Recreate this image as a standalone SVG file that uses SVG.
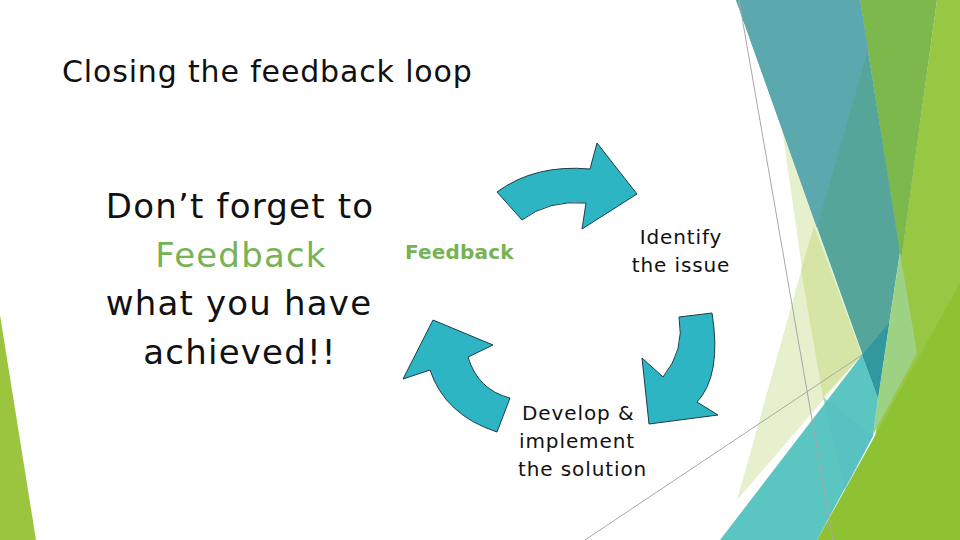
<svg xmlns="http://www.w3.org/2000/svg" width="960" height="540" viewBox="0 0 960 540">
<style>
.t{font-family:"DejaVu Sans","Liberation Sans",sans-serif;fill:#111}
.big{font-size:34px;text-anchor:middle;letter-spacing:1.2px}
.lbl{font-size:20px;letter-spacing:0.9px}
.green{fill:#77B254}
.arrow{fill:#2DB5C4;stroke:#1d3d4c;stroke-width:1;stroke-linejoin:round}
.gl{stroke:#a8a8a8;stroke-width:1;fill:none}
</style>
<rect width="960" height="540" fill="#ffffff"/>
<g id="background">
<polygon points="0,315 36,540 0,540" fill="#9BC53E"/>
<polygon points="782,128 802,268 737,500 862,355" fill="#E6F0CC"/>
<polygon points="814,226 801,270 823,397 862,355" fill="#D4E5A5"/>
<line class="gl" x1="585" y1="540" x2="862" y2="355"/>
<polygon points="901,260 937,0 960,0 960,540 860,540" fill="#98C744"/>
<polygon points="860,0 937,0 901,262" fill="#7CB84B"/>
<polygon points="736,0 860,0 900,252 878,398" fill="#56A59B"/>
<polygon points="736,0 860,0 868,50 817,228" fill="#5CA8AF"/>
<polygon points="900,252 917,353 873,435 878,398" fill="#9DD184"/>
<polygon points="720,540 862,355 878,398 873,436 817,540" fill="#5BC5C2"/>
<polygon points="823,397 873,436 845,490" fill="#55C0BF" opacity="0.6"/>
<polygon points="862,355 889,323 878,398" fill="#3198A0"/>
<polygon points="817,540 960,283 960,540" fill="#8EC233"/>
<line class="gl" x1="739" y1="0" x2="833" y2="540"/>
</g>
<g id="title">
<text class="t" x="62" y="82" font-size="30" letter-spacing="0.85">Closing the feedback loop</text>
</g>
<g id="message">
<text class="t big" x="240" y="218">Don’t forget to</text>
<text class="t big green" x="241" y="267">Feedback</text>
<text class="t big" x="239" y="315">what you have</text>
<text class="t big" x="240" y="364">achieved!!</text>
</g>
<g id="connectors">
<path class="arrow" d="M497,192 Q535,164 590,169 L597,143 L637,194 L582,229 L586,203 Q548,200 522,220 Z"/>
<path class="arrow" d="M712,313 Q722,375 697,402 L718,415 L649,424 L642,358 L663,377 Q685,350 679,317 Z"/>
<path class="arrow" d="M433,320 L493,345 L468,357 Q478,390 510,398 L497,432 Q445,415 430,370 L403,379 Z"/>
</g>
<g id="node-feedback">
<text class="t green" x="405" y="259" font-weight="bold" font-size="20" letter-spacing="0.2">Feedback</text>
</g>
<g id="node-identify">
<text class="t lbl" x="681" y="244" text-anchor="middle">Identify</text>
<text class="t lbl" x="681" y="272" text-anchor="middle">the issue</text>
</g>
<g id="node-develop">
<text class="t lbl" x="522" y="420">Develop &amp;</text>
<text class="t lbl" x="519" y="448">implement</text>
<text class="t lbl" x="518" y="476">the solution</text>
</g>
</svg>
